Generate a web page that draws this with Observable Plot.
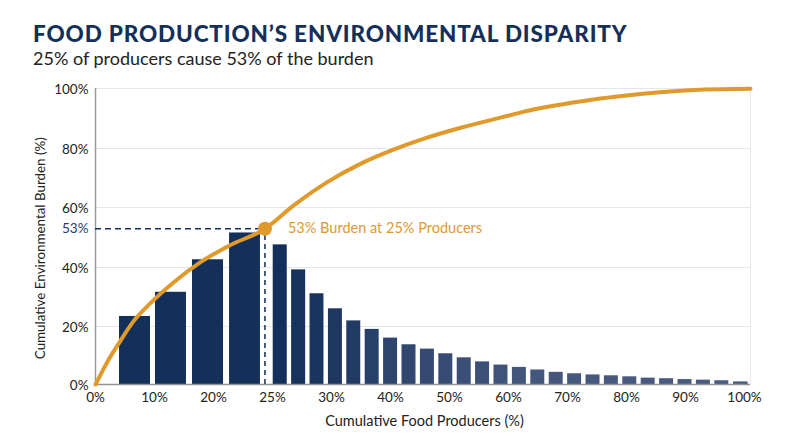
<!DOCTYPE html>
<html><head><meta charset="utf-8">
<script src="https://cdn.jsdelivr.net/npm/d3@7"></script>
<script src="https://cdn.jsdelivr.net/npm/@observablehq/plot@0.6"></script>
<style>
html,body{margin:0;padding:0;background:#fff;overflow:hidden}
#head{height:78px;box-sizing:border-box;padding:20px 0 0 33px;font-family:Lato,sans-serif}
#t{font-size:22.5px;font-weight:900;letter-spacing:.85px;color:#14305a;line-height:27px;white-space:nowrap}
#s{font-size:18px;color:#222;line-height:24px;margin-top:-1px;white-space:nowrap}
svg{display:block}
</style></head><body>
<div id="head"><div id="t">FOOD PRODUCTION’S ENVIRONMENTAL DISPARITY</div><div id="s">25% of producers cause 53% of the burden</div></div>
<div id="c"></div>
<script>
const xTicks = [0,10,20,25,30,40,50,60,70,80,90,100];
const yTicks = [0,20,40,60,80,100];
const barStart = [4.07,10.17,16.44,21.36,25.06,26.62,28.18,29.74,32.59,35.71,38.83,41.95,45.07,48.19,51.31,54.42,57.54,60.66,63.78,66.9,70.02,73.14,76.25,79.37,82.49,85.61,88.73,91.85,94.97,98.14];
const barEnd = [9.32,15.42,20.85,23.98,26.25,27.81,29.36,31.85,34.96,38.08,41.2,44.32,47.44,50.56,53.68,56.79,59.91,63.03,66.15,69.27,72.39,75.51,78.62,81.74,84.86,87.98,91.1,94.22,97.34,100.6];
const barValue = [23.4,31.6,42.6,51.6,47.6,39.2,31.1,26.0,21.9,19.0,16.0,13.7,12.2,10.6,9.2,7.8,6.7,5.9,5.0,4.2,3.7,3.3,3.0,2.65,2.2,2.0,1.7,1.5,1.3,0.9];
const curveX = [0,1.98,3.95,6.49,9.32,13.27,17.8,21.36,24.36,26.8,29.64,34.9,40.5,46.2,51.9,60.3,64.2,69.9,75.6,81.2,86.9,92.5,101];
const curveY = [0,7.7,14.2,21.9,27.9,35.0,41.8,47.4,53,60.7,68.6,74.8,79.6,83.6,86.9,91.1,93.0,95.0,96.7,97.95,98.95,99.6,99.9];
const markX = 24.36, markY = 53;

const bars = barValue.map((v,i)=>({x1:barStart[i],x2:barEnd[i],v}));
const curve = curveX.map((x,i)=>({x,y:curveY[i]}));
const headH = 78;
const font = "Lato,sans-serif";
const navy = "#14305a", gold = "#e09a2b", ink = "#222";

const plot = Plot.plot({
  width:800, height:369,
  marginTop:10, marginBottom:63, marginLeft:95, marginRight:50,
  style:{fontFamily:font,fontSize:"14px",color:ink,background:"#fff"},
  x:{type:"linear",domain:[...xTicks,101],range:[95,154,213,272,331,390,449,508,567,626,685,744,750]},
  y:{type:"linear",domain:[0,20,40,53,60,80,100],range:[384,326,267,228.3,207,148,88].map(p=>p-headH)},
  color:{type:"linear",domain:[25,40,60,100],range:["#14305a","#2f4670","#42557b","#4b5d81"],clamp:true},
  marks:[
    Plot.ruleY(yTicks.slice(1),{x1:0,x2:101,stroke:"#e4e6ea",strokeWidth:1}),
    Plot.ruleX([101],{y1:0,y2:100,stroke:"#e8e8ea",strokeWidth:1}),
    Plot.rectY(bars,{x1:"x1",x2:"x2",y1:0,y2:"v",fill:"x1",inset:0}),
    Plot.ruleX([0],{y1:0,y2:100,stroke:"#9a9a9a",strokeWidth:1.5}),
    Plot.ruleY([0],{x1:0,x2:101,stroke:"#8f9296",strokeWidth:1.5}),
    Plot.ruleY([markY],{x1:0,x2:markX,stroke:navy,strokeWidth:1.5,strokeDasharray:"6 4"}),
    Plot.ruleX([markX],{y1:0,y2:markY,stroke:navy,strokeWidth:1.5,strokeDasharray:"5 4"}),
    Plot.line(curve,{x:"x",y:"y",stroke:gold,strokeWidth:4,curve:"monotone-x"}),
    Plot.dot([{x:markX,y:markY}],{x:"x",y:"y",r:7,fill:gold}),
    Plot.text(["53% Burden at 25% Producers"],{x:markX,y:markY,dx:23,textAnchor:"start",fill:"#dc9a30",fontSize:14.5}),
    Plot.axisX({ticks:xTicks,tickSize:0,tickPadding:8,tickFormat:d=>d+"%",label:null,fontSize:13.5}),
    Plot.axisY({ticks:yTicks,tickSize:0,tickPadding:7,dy:1,tickFormat:d=>d+"%",label:null,fontSize:13.5}),
    Plot.text(["53%"],{frameAnchor:"left",y:markY,dx:-7,textAnchor:"end",fill:"#1f3a6b",fontSize:13.5}),
    Plot.text(["Cumulative Environmental Burden (%)"],{x:0,y:46.5,dx:-55,rotate:-90,fill:ink,fontSize:13.4}),
    Plot.text(["Cumulative Food Producers (%)"],{x:50,y:0,dy:37,dx:-25,fill:ink,fontSize:14.5})
  ]
});
document.getElementById("c").appendChild(plot);
</script></body></html>
